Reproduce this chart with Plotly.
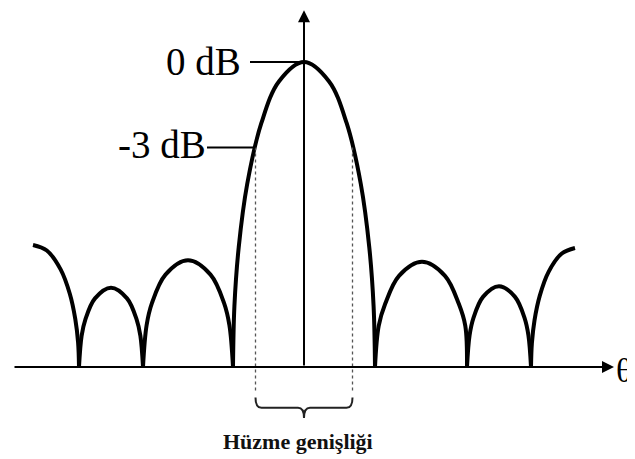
import plotly.graph_objects as go

# Beam pattern sketch: relative amplitude (0 dB = 1) against theta (arbitrary units)
lobe_a_x = [-27.1, -25.72, -24.34, -23.42, -22.87, -22.59, -22.5]
lobe_a_y = [0.40, 0.382, 0.32, 0.24, 0.157, 0.08, 0.0]

lobe_b_x = [-22.5, -22.24, -21.86, -20.9, -19.3, -17.7, -16.74, -16.36, -16.1]
lobe_b_y = [0.0, 0.102, 0.156, 0.225, 0.26, 0.225, 0.156, 0.102, 0.0]

lobe_c_x = [-16.1, -15.74, -15.2, -13.85, -11.6, -9.35, -8.0, -7.46, -7.1]
lobe_c_y = [0.0, 0.137, 0.21, 0.303, 0.35, 0.303, 0.21, 0.137, 0.0]

main_x = [-7.1, -6.96, -6.53, -5.68, -4.26, -2.49, 0.0, 2.49, 4.26, 5.68, 6.53, 6.96, 7.1]
main_y = [0.0, 0.199, 0.392, 0.6, 0.8, 0.937, 1.0, 0.937, 0.8, 0.6, 0.392, 0.199, 0.0]

lobe_d_x = [7.1, 7.47, 8.12, 9.5, 11.8, 14.1, 15.48, 16.13, 16.3]
lobe_d_y = [0.0, 0.135, 0.207, 0.299, 0.345, 0.299, 0.207, 0.135, 0.0]

lobe_e_x = [16.3, 16.56, 16.94, 17.9, 19.5, 21.1, 22.06, 22.44, 22.7]
lobe_e_y = [0.0, 0.104, 0.16, 0.23, 0.265, 0.23, 0.16, 0.104, 0.0]

lobe_f_x = [22.7, 22.79, 23.05, 23.58, 24.46, 25.78, 27.1]
lobe_f_y = [0.0, 0.078, 0.153, 0.234, 0.312, 0.372, 0.39]

peak_level = 1.0
half_power_level = 0.72
beam_edges = [-4.85, 4.85]
axis_x = [-29.1, 31.0]
axis_top = 1.17

lobes = [(lobe_a_x, lobe_a_y), (lobe_b_x, lobe_b_y), (lobe_c_x, lobe_c_y),
         (main_x, main_y), (lobe_d_x, lobe_d_y), (lobe_e_x, lobe_e_y),
         (lobe_f_x, lobe_f_y)]

serif = "Liberation Serif"
fig = go.Figure()

for lx, ly in lobes:
    fig.add_trace(go.Scatter(x=lx, y=ly, mode='lines',
                             line=dict(color='black', width=4, shape='spline', smoothing=1.0),
                             hoverinfo='skip', showlegend=False))

# dotted -3 dB guides
dot_bottom = -0.082
for ex in beam_edges:
    fig.add_trace(go.Scatter(x=[ex, ex], y=[half_power_level, dot_bottom], mode='lines',
                             line=dict(color='#555555', width=1.3, dash='dot'),
                             hoverinfo='skip', showlegend=False))

# leader lines for the labels
fig.add_trace(go.Scatter(x=[-5.4, 0], y=[peak_level, peak_level], mode='lines',
                         line=dict(color='black', width=2), showlegend=False, hoverinfo='skip'))
fig.add_trace(go.Scatter(x=[-9.7, beam_edges[0]], y=[half_power_level, half_power_level], mode='lines',
                         line=dict(color='black', width=2), showlegend=False, hoverinfo='skip'))

# curly brace under the beam width
bl, br = beam_edges
yt, ym, yb = -0.100, -0.134, -0.167
brace = (f"M {bl},{yt} Q {bl},{ym} {bl + 0.6},{ym} L -0.6,{ym} Q 0,{ym} 0,{yb} "
         f"Q 0,{ym} 0.6,{ym} L {br - 0.6},{ym} Q {br},{ym} {br},{yt}")
fig.add_shape(type='path', path=brace, xref='x', yref='y',
              line=dict(color='#222222', width=2))

# axes with arrows
fig.add_annotation(x=axis_x[1], y=0, ax=axis_x[0], ay=0, xref='x', yref='y',
                   axref='x', ayref='y', text='', showarrow=True,
                   arrowhead=2, arrowsize=1.2, arrowwidth=2, arrowcolor='black')
fig.add_annotation(x=0, y=axis_top, ax=0, ay=0, xref='x', yref='y',
                   axref='x', ayref='y', text='', showarrow=True,
                   arrowhead=2, arrowsize=1.2, arrowwidth=2, arrowcolor='black')

fig.add_annotation(x=-6.1, y=peak_level, text='0 dB', showarrow=False,
                   xanchor='right', yanchor='middle', font=dict(family=serif, size=39, color='black'))
fig.add_annotation(x=-9.6, y=half_power_level + 0.01, text='-3 dB', showarrow=False,
                   xanchor='right', yanchor='middle', font=dict(family=serif, size=39, color='black'))
fig.add_annotation(x=31.1, y=-0.01, text='θ', showarrow=False, borderpad=0,
                   xanchor='left', yanchor='middle', font=dict(family=serif, size=34, color='black'))
fig.add_annotation(x=-0.6, y=-0.243, text='<b>Hüzme genişliği</b>', showarrow=False,
                   xanchor='center', yanchor='middle', font=dict(family=serif, size=22, color='#111111'))

# ranges offset by the page's 8px body margin
fig.update_layout(width=635, height=459, autosize=False,
                  margin=dict(l=0, r=0, t=0, b=0),
                  plot_bgcolor='white', paper_bgcolor='white',
                  xaxis=dict(range=[-29.6, 33.9], visible=False, fixedrange=True),
                  yaxis=dict(range=[-0.3279, 1.1770], visible=False, fixedrange=True))

fig.write_html("out.html")
